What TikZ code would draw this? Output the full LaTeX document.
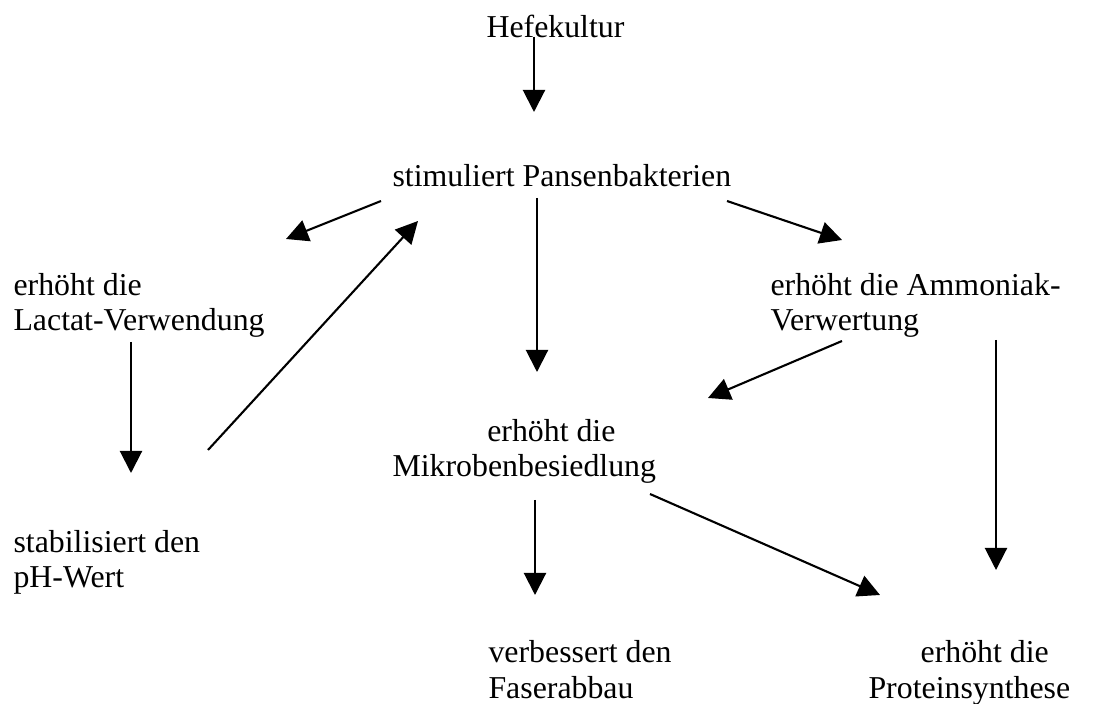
\documentclass[tikz,border=0pt]{standalone}
\usepackage{fontspec}
\setmainfont{Liberation Serif}
\usepackage{tikz}
\usetikzlibrary{arrows.meta}
\tikzset{
x=0.38pt, y=-0.38pt, % one unit is one pixel of the page, y runs down
arr/.style={-{Triangle[length=8.4pt,width=8.4pt]}, line width=0.8pt}, % the filled arrows
txt/.style={anchor=base west, inner sep=0pt, align=left, font=\fontsize{12.1pt}{13.6pt}\selectfont}, % plain text, no frame
}
\begin{document}
\begin{tikzpicture}
    \useasboundingbox (0,0) rectangle (1116,704);

    % two-line nodes sit on the baseline of their last line
    \node[txt] (hefe) at (486,38) {Hefekultur};
    \node[txt] (pansen) at (392,187) {stimuliert Pansenbakterien};
    \node[txt] (lactat) at (13,331) {erhöht die\\Lactat-Verwendung};
    \node[txt] (ammon) at (770,331) {erhöht die Ammoniak-\\Verwertung};
    \node[txt] (mikro) at (392,477) {\hspace{36pt}erhöht die\\Mikrobenbesiedlung};
    \node[txt] (ph) at (13,588) {stabilisiert den\\pH-Wert};
    \node[txt] (faser) at (488,698) {verbessert den\\Faserabbau};
    \node[txt] (protein) at (868,698) {\hspace{19.8pt}erhöht die\\Proteinsynthese};

    % free ends of the arrows
    \coordinate (h0) at (534,37);   \coordinate (h1) at (534,112);
    \coordinate (p0) at (381,201);  \coordinate (p1) at (286,239);
    \coordinate (p2) at (727,201);  \coordinate (p3) at (842,240);
    \coordinate (p4) at (537,198);  \coordinate (p5) at (537,372);
    \coordinate (l0) at (131,342);  \coordinate (l1) at (131,473);
    \coordinate (s0) at (208,450);  \coordinate (s1) at (418,221);
    \coordinate (a0) at (842,341);  \coordinate (a1) at (708,398);
    \coordinate (a2) at (996,340);  \coordinate (a3) at (996,570);
    \coordinate (m0) at (535,500);  \coordinate (m1) at (535,595);
    \coordinate (m2) at (650,494);  \coordinate (m3) at (880,595);

    \draw[arr] (h0) -- (h1);
    \draw[arr] (p0) -- (p1);
    \draw[arr] (p2) -- (p3);
    \draw[arr] (p4) -- (p5);
    \draw[arr] (l0) -- (l1);
    \draw[arr] (s0) -- (s1);
    \draw[arr] (a0) -- (a1);
    \draw[arr] (a2) -- (a3);
    \draw[arr] (m0) -- (m1);
    \draw[arr] (m2) -- (m3);
\end{tikzpicture}
\end{document}
